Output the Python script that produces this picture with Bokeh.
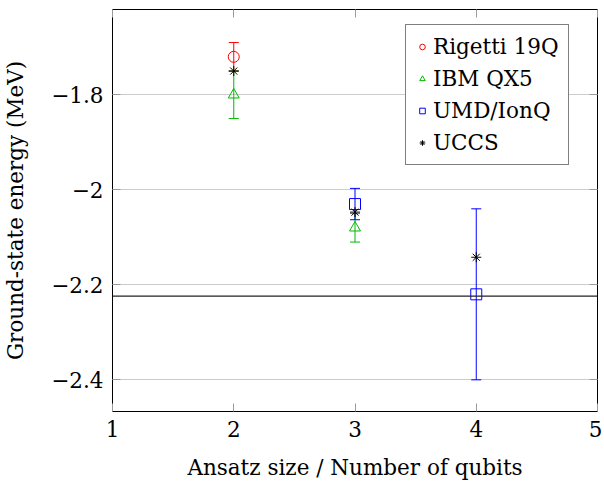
from bokeh.plotting import figure
from bokeh.models import (ColumnDataSource, Whisker, TeeHead, Span, Legend, LegendItem,
                          FixedTicker, LinearAxis, Range1d)
from bokeh.embed import file_html
from bokeh.resources import INLINE

# ---- data ----
rigetti_qubits = [2]
rigetti_energy = [-1.72]
rigetti_err = [0.03]
ibm_qubits = [2, 3]
ibm_energy = [-1.80, -2.08]
ibm_err = [0.05, 0.03]
umd_qubits = [3, 4]
umd_energy = [-2.03, -2.22]
umd_err = [0.033, 0.18]
uccs_qubits = [2, 3, 4]
uccs_energy = [-1.75, -2.047, -2.142]
exact_energy = -2.224
x_ticks = [1, 2, 3, 4, 5]
y_ticks = [-2.4, -2.2, -2.0, -1.8]
y_tick_labels = ["−2.4", "−2.2", "−2", "−1.8"]
series_names = ["Rigetti 19Q", "IBM QX5", "UMD/IonQ", "UCCS"]

FONT = "DejaVu Serif"
FS = "21.5px"
TICK_COLOR = "#9a9a9a"

p = figure(frame_width=485, frame_height=402,
           x_range=Range1d(1, 5), y_range=Range1d(-2.4667, -1.6204),
           output_backend="svg", toolbar_location=None,
           min_border_left=107, min_border_right=5, min_border_top=9, min_border_bottom=64)

p.outline_line_color = "black"
p.outline_line_width = 1
p.background_fill_color = "white"
p.border_fill_color = "white"

# axes
xa = p.xaxis[0]
ya = p.yaxis[0]
for ax in (xa, ya):
    ax.axis_line_color = None
    ax.major_tick_in = 8
    ax.major_tick_out = 0
    ax.major_tick_line_color = TICK_COLOR
    ax.minor_tick_line_color = None
    ax.major_label_text_font = FONT
    ax.major_label_text_font_size = FS
    ax.major_label_text_color = "black"
    ax.axis_label_text_font = FONT
    ax.axis_label_text_font_size = FS
    ax.axis_label_text_font_style = "normal"
    ax.axis_label_text_color = "black"

xa.ticker = FixedTicker(ticks=x_ticks)
xa.axis_label = "Ansatz size / Number of qubits"
xa.major_label_standoff = 9
xa.axis_label_standoff = 15

ya.ticker = FixedTicker(ticks=y_ticks)
ya.major_label_overrides = {t: l for t, l in zip(y_ticks, y_tick_labels)}
ya.axis_label = "Ground-state energy (MeV)"
ya.major_label_standoff = 9
ya.axis_label_standoff = 20

# top / right tick-only axes (labels not drawn)
top = LinearAxis(ticker=FixedTicker(ticks=x_ticks))
right = LinearAxis(ticker=FixedTicker(ticks=y_ticks))
for ax in (top, right):
    ax.axis_line_color = None
    ax.major_tick_in = 8
    ax.major_tick_out = 0
    ax.major_tick_line_color = TICK_COLOR
    ax.minor_tick_line_color = None
    ax.major_label_text_font_size = "1px"
    ax.major_label_text_color = None
    ax.major_label_standoff = 0
p.add_layout(top, "above")
p.add_layout(right, "right")

p.xgrid.visible = False
p.ygrid.ticker = FixedTicker(ticks=y_ticks)
p.ygrid.grid_line_color = "#cccccc"
p.ygrid.grid_line_width = 1

# exact value line
p.add_layout(Span(location=exact_energy, dimension="width", line_color="#222222", line_width=1.2))


def add_errorbars(xs, ys, errs, color):
    src = ColumnDataSource(dict(x=xs,
                                upper=[y + e for y, e in zip(ys, errs)],
                                lower=[y - e for y, e in zip(ys, errs)]))
    w = Whisker(source=src, base="x", upper="upper", lower="lower", dimension="height",
                line_color=color, line_width=1,
                upper_head=TeeHead(size=10, line_color=color, line_width=1),
                lower_head=TeeHead(size=10, line_color=color, line_width=1))
    p.add_layout(w)


add_errorbars(rigetti_qubits, rigetti_energy, rigetti_err, "red")
add_errorbars(ibm_qubits, ibm_energy, ibm_err, "#00bb00")
add_errorbars(umd_qubits, umd_energy, umd_err, "blue")

r1 = p.scatter(rigetti_qubits, rigetti_energy, marker="circle", size=11,
               fill_color=None, line_color="red", line_width=1)
r2 = p.scatter(ibm_qubits, ibm_energy, marker="triangle", size=11,
               fill_color=None, line_color="#00bb00", line_width=1)
r3 = p.scatter(umd_qubits, umd_energy, marker="square", size=11,
               fill_color=None, line_color="blue", line_width=1)
r4 = p.scatter(uccs_qubits, uccs_energy, marker="asterisk", size=10,
               fill_color=None, line_color="black", line_width=1)

legend = Legend(items=[LegendItem(label=n, renderers=[r]) for n, r in
                       zip(series_names, [r1, r2, r3, r4])],
                location=(293, 246))
legend.border_line_color = "black"
legend.border_line_width = 1
legend.background_fill_color = "white"
legend.background_fill_alpha = 1
legend.label_text_font = FONT
legend.label_text_font_size = FS
legend.label_text_color = "black"
legend.padding = 9
legend.spacing = 7
legend.glyph_width = 14
legend.glyph_height = 25
legend.label_height = 25
legend.label_standoff = 4
legend.margin = 0
p.add_layout(legend)

open("out.html", "w").write(file_html(p, INLINE))
